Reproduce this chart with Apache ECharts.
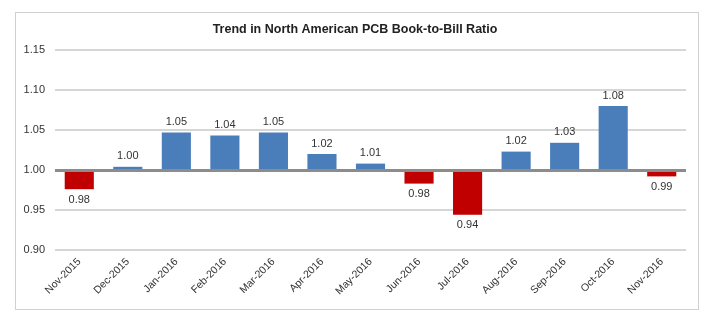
<!DOCTYPE html>
<html>
<head>
<meta charset="utf-8">
<script src="https://cdn.jsdelivr.net/npm/echarts@6/dist/echarts.min.js"></script>
<style>
html,body{margin:0;padding:0;background:#fff;}
#wrap{position:absolute;left:15px;top:12px;width:684px;height:298px;border:1.5px solid #d0d0d0;box-sizing:border-box;}
#c{position:absolute;left:0;top:0;width:710px;height:322px;}
</style>
</head>
<body>
<div id="wrap"></div>
<div id="c"></div>
<script>
const categories = ["Nov-2015","Dec-2015","Jan-2016","Feb-2016","Mar-2016","Apr-2016","May-2016","Jun-2016","Jul-2016","Aug-2016","Sep-2016","Oct-2016","Nov-2016"];
const ratios = [0.976, 1.004, 1.047, 1.043, 1.047, 1.020, 1.008, 0.983, 0.944, 1.023, 1.034, 1.080, 0.992];
const baseline = 1.00;
const yTicks = [0.90, 0.95, 1.00, 1.05, 1.10, 1.15];

// plot in hundredths relative to baseline so bars grow from 1.00
const toUnits = v => Math.round((v - baseline) * 1000) / 10;
const data = ratios.map(v => ({
  value: toUnits(v),
  itemStyle: { color: v >= baseline ? '#4a7ebb' : '#c00000' },
  label: { position: v >= baseline ? 'top' : 'bottom' }
}));

const chart = echarts.init(document.getElementById('c'), null, { renderer: 'canvas' });
chart.setOption({
  animation: false,
  title: {
    text: 'Trend in North American PCB Book-to-Bill Ratio',
    left: 'center', top: 18,
    textStyle: { fontFamily: 'Liberation Sans, Arial, sans-serif', fontSize: 12.5, fontWeight: 'bold', color: '#222' }
  },
  grid: { left: 55, right: 24, top: 50, bottom: 72 },
  xAxis: {
    type: 'category',
    data: categories,
    axisLine: { show: false },
    axisTick: { show: false },
    axisLabel: {
      rotate: 45, interval: 0, margin: 10,
      fontFamily: 'Liberation Sans, Arial, sans-serif', fontSize: 10.5, color: '#333'
    }
  },
  yAxis: {
    type: 'value',
    min: toUnits(yTicks[0]), max: toUnits(yTicks[yTicks.length - 1]), interval: 5,
    axisLine: { show: false },
    axisTick: { show: false },
    axisLabel: {
      margin: 10,
      fontFamily: 'Liberation Sans, Arial, sans-serif', fontSize: 11, color: '#333',
      formatter: v => (baseline + v / 100).toFixed(2)
    },
    splitLine: { lineStyle: { color: '#c8c8c8', width: 1.5 } }
  },
  series: [{
    type: 'bar',
    data: data,
    barWidth: '60%',
    label: {
      show: true, distance: 5,
      fontFamily: 'Liberation Sans, Arial, sans-serif', fontSize: 11, color: '#333',
      formatter: p => (baseline + p.value / 100).toFixed(2)
    },
    markLine: {
      silent: true, symbol: 'none', label: { show: false },
      lineStyle: { color: '#8c8c8c', width: 3, type: 'solid' },
      data: [{ yAxis: 0 }]
    }
  }]
});
</script>
</body>
</html>
